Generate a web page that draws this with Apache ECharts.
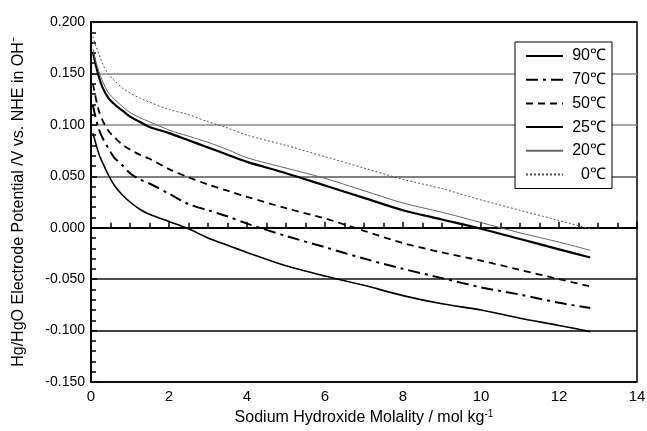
<!DOCTYPE html>
<html>
<head>
<meta charset="utf-8">
<script src="https://cdn.jsdelivr.net/npm/echarts@6/dist/echarts.min.js"></script>
<style>html,body{margin:0;padding:0;background:#fff}#c{width:647px;height:431px}</style>
</head>
<body>
<div id="c"></div>
<script>
const molality = [0.05, 0.1, 0.2, 0.3, 0.45, 0.6, 0.8, 1.0, 1.25, 1.5, 2, 2.5, 3, 3.5, 4, 5, 6, 7, 8, 9, 10, 11, 12, 12.8];
const t90 = [0.092, 0.085, 0.072, 0.063, 0.051, 0.041, 0.032, 0.025, 0.018, 0.013, 0.006, -0.001, -0.010, -0.017, -0.024, -0.037, -0.047, -0.056, -0.066, -0.074, -0.080, -0.088, -0.095, -0.101];
const t70 = [0.119, 0.110, 0.096, 0.087, 0.077, 0.068, 0.061, 0.053, 0.047, 0.043, 0.033, 0.023, 0.017, 0.011, 0.004, -0.008, -0.019, -0.030, -0.040, -0.049, -0.058, -0.065, -0.073, -0.078];
const t50 = [0.140, 0.130, 0.114, 0.104, 0.094, 0.088, 0.081, 0.076, 0.071, 0.067, 0.057, 0.049, 0.042, 0.036, 0.030, 0.019, 0.009, -0.003, -0.015, -0.024, -0.032, -0.041, -0.050, -0.057];
const t25 = [0.171, 0.162, 0.147, 0.136, 0.126, 0.120, 0.114, 0.108, 0.103, 0.098, 0.092, 0.085, 0.078, 0.071, 0.064, 0.053, 0.041, 0.029, 0.017, 0.008, -0.001, -0.011, -0.021, -0.029];
const t20 = [0.174, 0.165, 0.152, 0.142, 0.131, 0.125, 0.118, 0.112, 0.107, 0.103, 0.095, 0.089, 0.083, 0.076, 0.068, 0.058, 0.048, 0.036, 0.024, 0.015, 0.005, -0.005, -0.014, -0.022];
const t0 = [0.186, 0.179, 0.169, 0.159, 0.149, 0.143, 0.136, 0.131, 0.126, 0.122, 0.115, 0.110, 0.103, 0.097, 0.090, 0.080, 0.069, 0.058, 0.047, 0.038, 0.027, 0.017, 0.007, -0.001];
const seriesNames = ['90℃', '70℃', '50℃', '25℃', '20℃', '0℃'];

const FONT = '"Liberation Sans", Arial, sans-serif';
const pair = v => v.map((y, i) => [molality[i], y]);
const styles = [
  {color: '#000', width: 1.6, type: 'solid'},
  {color: '#000', width: 2, type: [12, 5, 3, 5]},
  {color: '#000', width: 1.8, type: [7, 5]},
  {color: '#000', width: 2.2, type: 'solid'},
  {color: '#666', width: 1, type: 'solid'},
  {color: '#555', width: 1, type: [2, 2]}
];
const datasets = [t90, t70, t50, t25, t20, t0];

const chart = echarts.init(document.getElementById('c'), null, {renderer: 'canvas'});
chart.setOption({
  animation: false,
  backgroundColor: '#fff',
  grid: {left: 91, right: 10, top: 22, bottom: 49, outerBoundsMode: 'none', containLabel: false,
         show: true, borderColor: '#000', borderWidth: 1.5, backgroundColor: 'transparent'},
  legend: {
    orient: 'vertical', left: 515, top: 42,
    data: seriesNames,
    itemWidth: 37, itemHeight: 14, itemGap: 7.7,
    padding: [6, 6, 6, 10],
    backgroundColor: '#fff', borderColor: '#000', borderWidth: 1,
    itemStyle: {opacity: 0},
    formatter: n => '{a|' + n + '}',
    textStyle: {fontFamily: FONT, fontSize: 16, color: '#000',
      rich: {a: {fontFamily: FONT, fontSize: 16, color: '#000', width: 38, align: 'right'}}}
  },
  xAxis: {
    type: 'value', min: 0, max: 14, interval: 2,
    name: 'Sodium Hydroxide Molality / mol kg{sup|-1}',
    nameLocation: 'middle', nameGap: 25,
    nameTextStyle: {fontFamily: FONT, fontSize: 16, color: '#000', rich: {sup: {fontFamily: FONT, fontSize: 10, verticalAlign: 'top', color: '#000', padding: [0, 0, 8, 0]}}},
    axisLine: {lineStyle: {color: '#000', width: 2}},
    axisTick: {inside: true, length: 6, lineStyle: {color: '#000', width: 1.5}},
    minorTick: {show: true, splitNumber: 4, length: 5, lineStyle: {color: '#000', width: 1.5}},
    axisLabel: {fontFamily: FONT, fontSize: 15, color: '#000', margin: 7},
    splitLine: {show: false}
  },
  yAxis: {
    type: 'value', min: -0.15, max: 0.2, interval: 0.05,
    name: 'Hg/HgO Electrode Potential /V vs. NHE in OH⁻',
    nameLocation: 'middle', nameGap: 64, nameRotate: 90,
    nameTextStyle: {fontFamily: FONT, fontSize: 16, color: '#000'},
    axisLine: {lineStyle: {color: '#000', width: 2}},
    axisTick: {inside: true, length: 6, lineStyle: {color: '#000', width: 1.5}},
    minorTick: {show: true, splitNumber: 5, length: 5, lineStyle: {color: '#000', width: 1.5}},
    axisLabel: {fontFamily: FONT, fontSize: 14, color: '#000', margin: 6, formatter: v => v.toFixed(3)},
    splitLine: {show: true, lineStyle: {color: ['#000', '#000', '#111', '#555', '#555', '#888', '#888', '#000'], width: 1.5}}
  },
  series: datasets.map((d, i) => ({
    name: seriesNames[i], type: 'line', data: pair(d), showSymbol: false, symbol: 'none', smooth: 0.3,
    lineStyle: styles[i], itemStyle: {color: styles[i].color}
  }))
});
</script>
</body>
</html>
